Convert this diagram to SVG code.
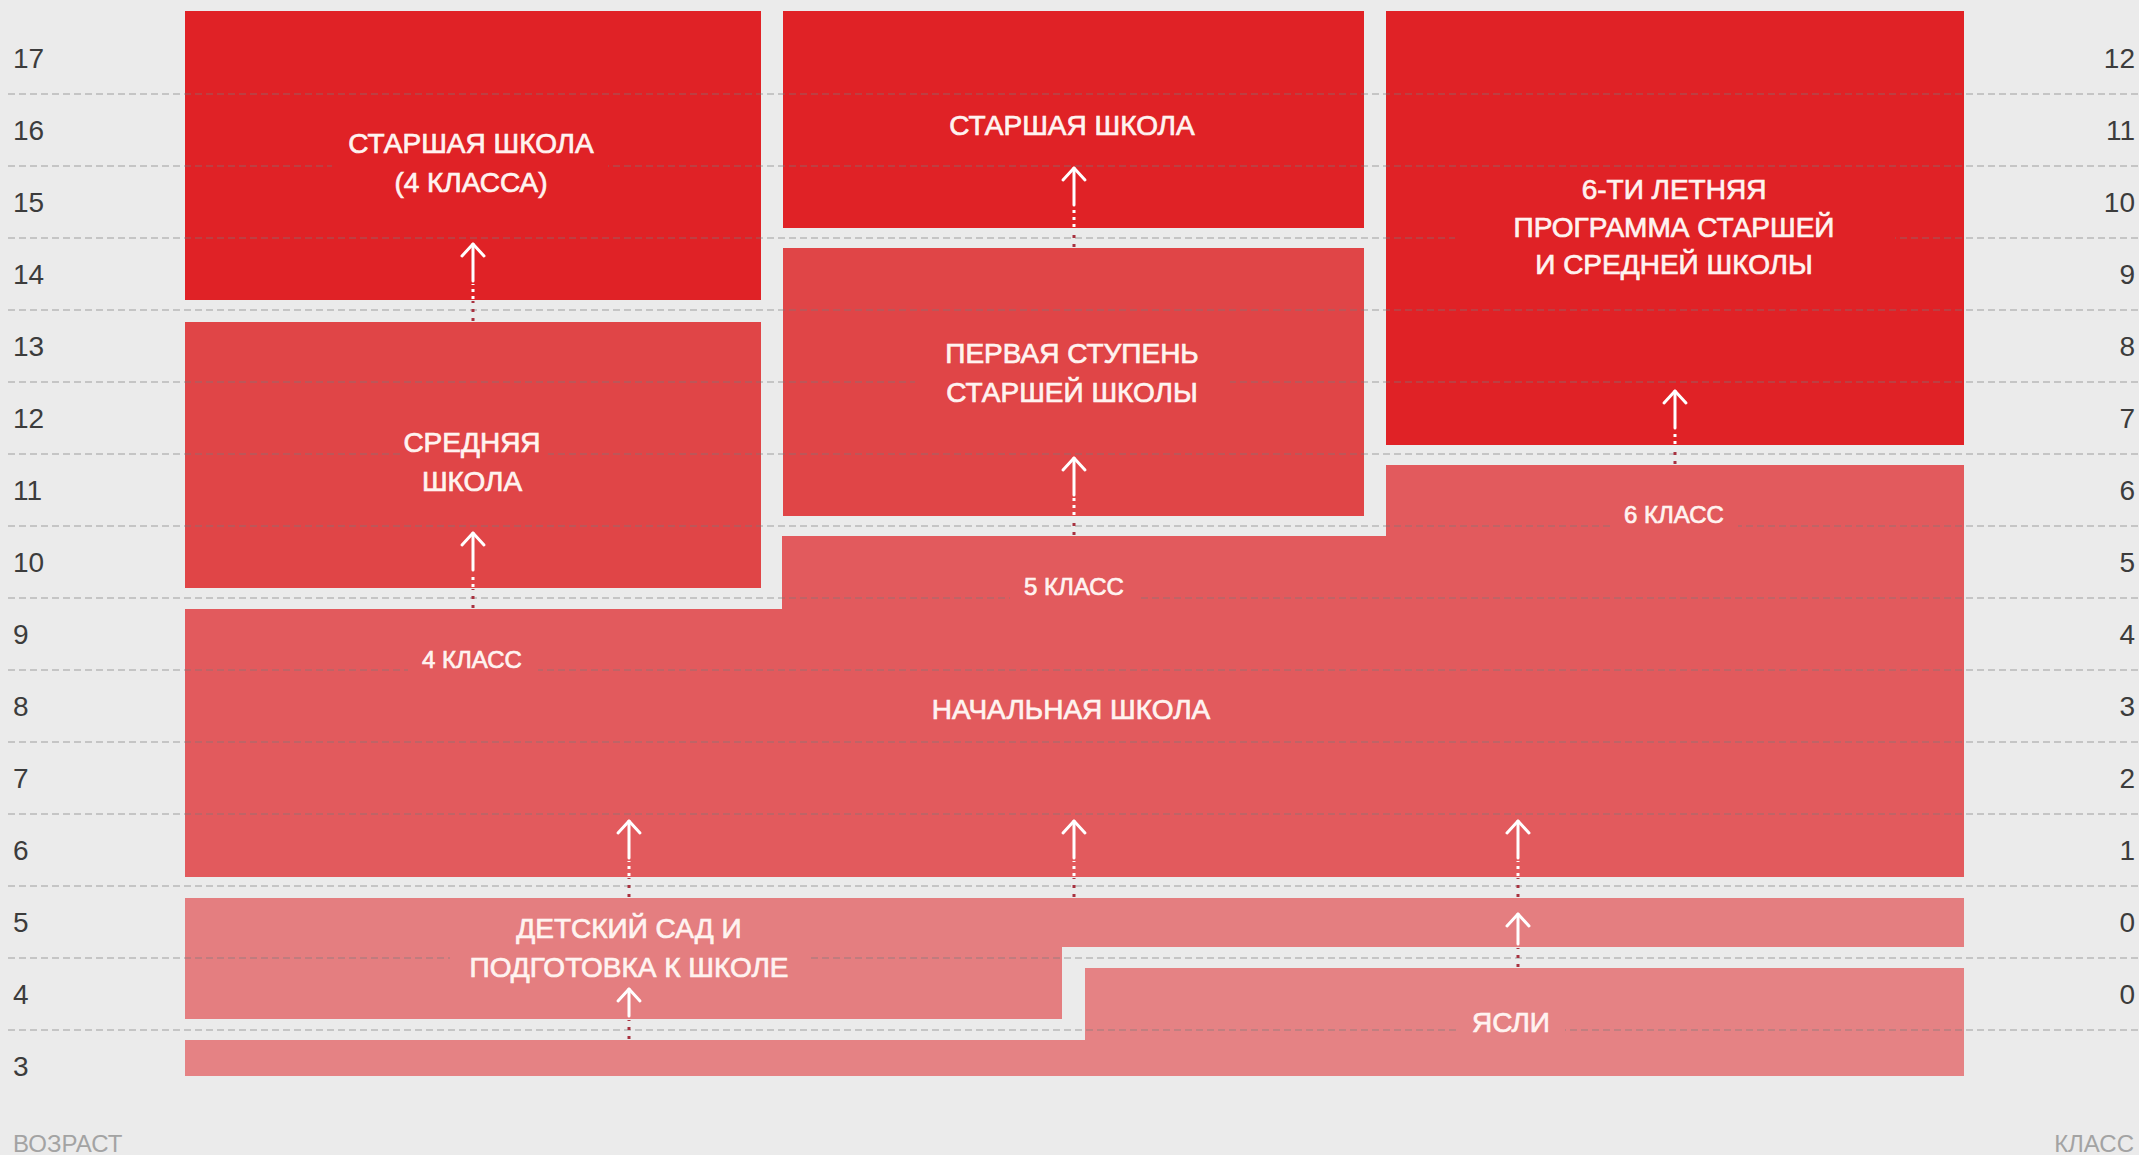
<svg xmlns="http://www.w3.org/2000/svg" width="2139" height="1155" viewBox="0 0 2139 1155">
<style>
.bg{fill:#ebebeb}
.c1{fill:#e02226}
.c2{fill:#e04547}
.c3{fill:#e25a5d}
.c4{fill:#e47e80}
.c5{fill:#e58284}
.lbl{font-family:"Liberation Sans",Arial,sans-serif;font-size:28px;fill:#fff3f0;stroke:#fff3f0;stroke-width:0.7;text-anchor:middle}
.sm{font-size:24px}
.age{font-family:"Liberation Sans",Arial,sans-serif;font-size:28px;fill:#3c3c3c}
.axis{font-family:"Liberation Sans",Arial,sans-serif;font-size:24px;fill:#a3a3a3}
.grid line{stroke:#7a7a7a;stroke-opacity:0.45;stroke-width:1.5;stroke-dasharray:7 4}
.shaft{stroke:#fff;stroke-width:3;stroke-linecap:round;fill:none}
.dots{stroke:#fff;stroke-width:3;stroke-dasharray:3 4;fill:none}
.gapdots{stroke:#a83240;stroke-width:3;stroke-dasharray:3 6;fill:none}
</style>
<defs>
<marker id="ah" viewBox="-2 -2 16 26" refX="12" refY="11" markerWidth="16" markerHeight="26" markerUnits="userSpaceOnUse" orient="auto" overflow="visible">
<path d="M0,0 L12,11 L0,22" fill="none" stroke="#fff" stroke-width="3" stroke-linecap="round" stroke-linejoin="round"/>
</marker>
<mask id="txtmask" maskUnits="userSpaceOnUse" x="0" y="0" width="2139" height="1155">
<rect x="0" y="0" width="2139" height="1155" fill="#fff"/>
<rect x="332" y="125" width="276" height="75" fill="#000"/>
<rect x="403" y="425" width="145" height="75" fill="#000"/>
<rect x="408" y="645" width="130" height="35" fill="#000"/>
<rect x="915" y="335" width="315" height="77" fill="#000"/>
<rect x="1010" y="570" width="128" height="35" fill="#000"/>
<rect x="1610" y="498" width="128" height="35" fill="#000"/>
<rect x="1455" y="175" width="440" height="107" fill="#000"/>
<rect x="450" y="910" width="360" height="75" fill="#000"/>
<rect x="1458" y="1005" width="107" height="35" fill="#000"/>
</mask>
</defs>
<rect class="bg" x="0" y="0" width="2139" height="1155"/>

<g id="n-senior-4">
<rect class="c1" x="185" y="11" width="576" height="289"/>
<text class="lbl" x="471" y="153">СТАРШАЯ ШКОЛА</text>
<text class="lbl" x="471" y="192">(4 КЛАССА)</text>
</g>
<g id="n-middle">
<rect class="c2" x="185" y="322" width="576" height="266"/>
<text class="lbl" x="472" y="452">СРЕДНЯЯ</text>
<text class="lbl" x="472" y="491">ШКОЛА</text>
</g>
<g id="n-senior">
<rect class="c1" x="783" y="11" width="581" height="217"/>
<text class="lbl" x="1072" y="135">СТАРШАЯ ШКОЛА</text>
</g>
<g id="n-first-senior">
<rect class="c2" x="783" y="248" width="581" height="268"/>
<text class="lbl" x="1072" y="363">ПЕРВАЯ СТУПЕНЬ</text>
<text class="lbl" x="1072" y="402">СТАРШЕЙ ШКОЛЫ</text>
</g>
<g id="n-six-year">
<rect class="c1" x="1386" y="11" width="578" height="434"/>
<text class="lbl" x="1674" y="199">6-ТИ ЛЕТНЯЯ</text>
<text class="lbl" x="1674" y="237">ПРОГРАММА СТАРШЕЙ</text>
<text class="lbl" x="1674" y="274">И СРЕДНЕЙ ШКОЛЫ</text>
</g>
<g id="n-primary">
<polygon class="c3" points="185,609 782,609 782,536 1386,536 1386,465 1964,465 1964,877 185,877"/>
<text class="lbl sm" x="472" y="668">4 КЛАСС</text>
<text class="lbl sm" x="1074" y="595">5 КЛАСС</text>
<text class="lbl sm" x="1674" y="523">6 КЛАСС</text>
<text class="lbl" x="1071" y="719">НАЧАЛЬНАЯ ШКОЛА</text>
</g>
<g id="n-kindergarten">
<polygon class="c4" points="185,898 1964,898 1964,947 1062,947 1062,1019 185,1019"/>
<text class="lbl" x="629" y="938">ДЕТСКИЙ САД И</text>
<text class="lbl" x="629" y="977">ПОДГОТОВКА К ШКОЛЕ</text>
</g>
<g id="n-nursery">
<polygon class="c5" points="1085,968 1964,968 1964,1076 185,1076 185,1040 1085,1040"/>
<text class="lbl" x="1511" y="1032">ЯСЛИ</text>
</g>

<g id="grid" class="grid" mask="url(#txtmask)">
<line x1="8" y1="94" x2="2139" y2="94"/>
<line x1="8" y1="166" x2="2139" y2="166"/>
<line x1="8" y1="238" x2="2139" y2="238"/>
<line x1="8" y1="310" x2="2139" y2="310"/>
<line x1="8" y1="382" x2="2139" y2="382"/>
<line x1="8" y1="454" x2="2139" y2="454"/>
<line x1="8" y1="526" x2="2139" y2="526"/>
<line x1="8" y1="598" x2="2139" y2="598"/>
<line x1="8" y1="670" x2="2139" y2="670"/>
<line x1="8" y1="742" x2="2139" y2="742"/>
<line x1="8" y1="814" x2="2139" y2="814"/>
<line x1="8" y1="886" x2="2139" y2="886"/>
<line x1="8" y1="958" x2="2139" y2="958"/>
<line x1="8" y1="1030" x2="2139" y2="1030"/>
</g>

<g id="ages" class="age">
<text x="13" y="68">17</text>
<text x="13" y="140">16</text>
<text x="13" y="212">15</text>
<text x="13" y="284">14</text>
<text x="13" y="356">13</text>
<text x="13" y="428">12</text>
<text x="13" y="500">11</text>
<text x="13" y="572">10</text>
<text x="13" y="644">9</text>
<text x="13" y="716">8</text>
<text x="13" y="788">7</text>
<text x="13" y="860">6</text>
<text x="13" y="932">5</text>
<text x="13" y="1004">4</text>
<text x="13" y="1076">3</text>
</g>
<g id="grades" class="age" text-anchor="end">
<text x="2135" y="68">12</text>
<text x="2135" y="140">11</text>
<text x="2135" y="212">10</text>
<text x="2135" y="284">9</text>
<text x="2135" y="356">8</text>
<text x="2135" y="428">7</text>
<text x="2135" y="500">6</text>
<text x="2135" y="572">5</text>
<text x="2135" y="644">4</text>
<text x="2135" y="716">3</text>
<text x="2135" y="788">2</text>
<text x="2135" y="860">1</text>
<text x="2135" y="932">0</text>
<text x="2135" y="1004">0</text>
</g>
<text class="axis" x="13" y="1152">ВОЗРАСТ</text>
<text class="axis" x="2134" y="1152" text-anchor="end">КЛАСС</text>

<g id="connectors">
<g id="e-middle-senior4">
<line class="gapdots" x1="473" y1="321" x2="473" y2="301"/>
<line class="dots" x1="473" y1="299" x2="473" y2="284"/>
<line class="shaft" x1="473" y1="281" x2="473" y2="244" marker-end="url(#ah)"/>
</g>
<g id="e-primary-middle">
<line class="gapdots" x1="473" y1="608" x2="473" y2="589"/>
<line class="dots" x1="473" y1="587" x2="473" y2="573"/>
<line class="shaft" x1="473" y1="570" x2="473" y2="533" marker-end="url(#ah)"/>
</g>
<g id="e-first-senior">
<line class="gapdots" x1="1074" y1="247" x2="1074" y2="229"/>
<line class="dots" x1="1074" y1="227" x2="1074" y2="208"/>
<line class="shaft" x1="1074" y1="205" x2="1074" y2="168" marker-end="url(#ah)"/>
</g>
<g id="e-primary-first">
<line class="gapdots" x1="1074" y1="535" x2="1074" y2="517"/>
<line class="dots" x1="1074" y1="515" x2="1074" y2="498"/>
<line class="shaft" x1="1074" y1="495" x2="1074" y2="458" marker-end="url(#ah)"/>
</g>
<g id="e-primary-six">
<line class="gapdots" x1="1675" y1="464" x2="1675" y2="446"/>
<line class="dots" x1="1675" y1="444" x2="1675" y2="431"/>
<line class="shaft" x1="1675" y1="428" x2="1675" y2="391" marker-end="url(#ah)"/>
</g>
<g id="e-kg-primary-1">
<line class="gapdots" x1="629" y1="897" x2="629" y2="878"/>
<line class="dots" x1="629" y1="876" x2="629" y2="861"/>
<line class="shaft" x1="629" y1="858" x2="629" y2="821" marker-end="url(#ah)"/>
</g>
<g id="e-kg-primary-2">
<line class="gapdots" x1="1074" y1="897" x2="1074" y2="878"/>
<line class="dots" x1="1074" y1="876" x2="1074" y2="861"/>
<line class="shaft" x1="1074" y1="858" x2="1074" y2="821" marker-end="url(#ah)"/>
</g>
<g id="e-kg-primary-3">
<line class="gapdots" x1="1518" y1="897" x2="1518" y2="878"/>
<line class="dots" x1="1518" y1="876" x2="1518" y2="861"/>
<line class="shaft" x1="1518" y1="858" x2="1518" y2="821" marker-end="url(#ah)"/>
</g>
<g id="e-nursery-kg-1">
<line class="gapdots" x1="629" y1="1039" x2="629" y2="1020"/>
<line class="shaft" x1="629" y1="1016" x2="629" y2="989" marker-end="url(#ah)"/>
</g>
<g id="e-nursery-kg-2">
<line class="gapdots" x1="1518" y1="967" x2="1518" y2="948"/>
<line class="shaft" x1="1518" y1="944" x2="1518" y2="914" marker-end="url(#ah)"/>
</g>
</g>
</svg>
